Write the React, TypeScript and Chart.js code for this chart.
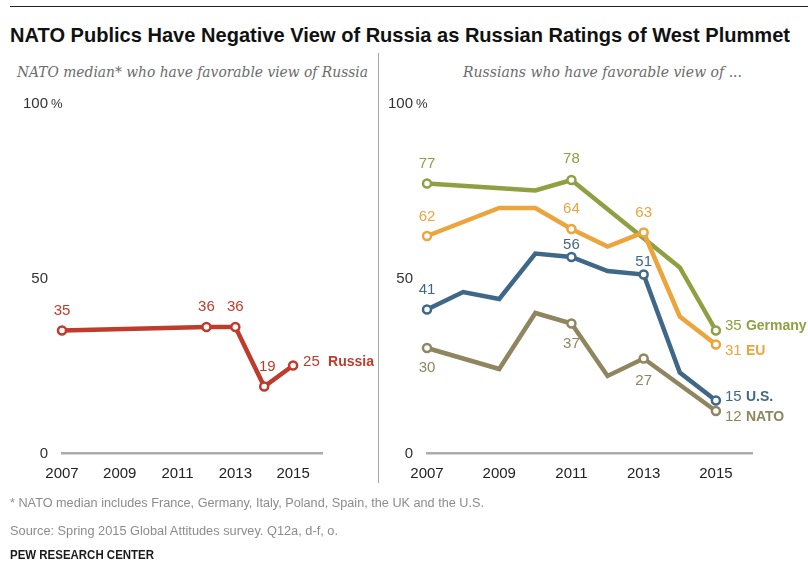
import React, { useEffect, useLayoutEffect, useRef } from "react";
import { Chart, registerables } from "chart.js";

Chart.register(...registerables);

// ---------- DATA ----------
const LEFT_YEARS = [2007, 2012, 2013, 2014, 2015];
const RUSSIA = [35, 36, 36, 19, 25];

const RIGHT_YEARS = [2007, 2008, 2009, 2010, 2011, 2012, 2013, 2014, 2015];
const GERMANY = [77, null, null, 75, 78, null, null, 53, 35];
const EU = [62, null, 70, 70, 64, 59, 63, 39, 31];
const US = [41, 46, 44, 57, 56, 52, 51, 23, 15];
const NATO = [30, null, 24, 40, 37, 22, 27, null, 12];

const X_TICKS = [2007, 2009, 2011, 2013, 2015];
const Y_TICKS = [0, 50, 100];

const RUSSIA_LABELED = [2007, 2012, 2013, 2014, 2015];
const GERMANY_LABELED = [2007, 2011, 2015];
const EU_LABELED = [2007, 2011, 2013, 2015];
const US_LABELED = [2007, 2011, 2013, 2015];
const NATO_LABELED = [2007, 2011, 2013, 2015];

// ---------- STYLE ----------
const FONT = "'Liberation Sans', Arial, sans-serif";

type Series = {
  name: string;
  color: string;
  years: number[];
  values: (number | null)[];
  labeled: number[];
  dys: number[]; // offsets of the in-line labels (all but the last)
  dxs: number[];
  endDy: number;
};

const LEFT_SERIES: Series[] = [
  {
    name: "Russia",
    color: "#bf3b2c",
    years: LEFT_YEARS,
    values: RUSSIA,
    labeled: RUSSIA_LABELED,
    dys: [-20, -20, -20, -20],
    dxs: [0, 0, 0, 3],
    endDy: -4,
  },
];

const RIGHT_SERIES: Series[] = [
  {
    name: "EU",
    color: "#eca43c",
    years: RIGHT_YEARS,
    values: EU,
    labeled: EU_LABELED,
    dys: [-19, -20, -20],
    dxs: [0, 0, 0],
    endDy: 6,
  },
  {
    name: "U.S.",
    color: "#3f6888",
    years: RIGHT_YEARS,
    values: US,
    labeled: US_LABELED,
    dys: [-20, -12, -13],
    dxs: [0, 0, 0],
    endDy: -4,
  },
  {
    name: "NATO",
    color: "#8f8660",
    years: RIGHT_YEARS,
    values: NATO,
    labeled: NATO_LABELED,
    dys: [20, 20, 22],
    dxs: [0, 0, 0],
    endDy: 6,
  },
  {
    name: "Germany",
    color: "#8fa043",
    years: RIGHT_YEARS,
    values: GERMANY,
    labeled: GERMANY_LABELED,
    dys: [-20, -21],
    dxs: [0, 0],
    endDy: -5,
  },
];

function LineChart({
  series,
  width,
  height,
  padLeft,
  padRight,
  numDx,
  nameDx,
}: {
  series: Series[];
  width: number;
  height: number;
  padLeft: number;
  padRight: number;
  numDx: number;
  nameDx: number;
}) {
  const ref = useRef<HTMLCanvasElement>(null);
  useEffect(() => {
    const canvas = ref.current;
    if (!canvas) return;

    const labelsPlugin = {
      id: "valueLabels",
      afterDatasetsDraw(chart: any) {
        const ctx = chart.ctx;
        ctx.save();
        series.forEach((s, di) => {
          const meta = chart.getDatasetMeta(di);
          s.labeled.forEach((yr, li) => {
            const idx = s.years.indexOf(yr);
            const pt = meta.data[idx];
            if (!pt) return;
            const v = s.values[idx];
            ctx.fillStyle = s.color;
            ctx.textBaseline = "middle";
            if (li === s.labeled.length - 1) {
              ctx.font = `15px ${FONT}`;
              ctx.textAlign = "left";
              ctx.fillText(String(v), pt.x + numDx, pt.y + s.endDy);
              ctx.font = `bold 14px ${FONT}`;
              ctx.fillText(s.name, pt.x + nameDx, pt.y + s.endDy + 0.5);
            } else {
              ctx.font = `15px ${FONT}`;
              ctx.textAlign = "center";
              ctx.fillText(String(v), pt.x + s.dxs[li], pt.y + s.dys[li]);
            }
          });
        });
        ctx.restore();
      },
      afterDraw(chart: any) {
        const ctx = chart.ctx;
        const ys = chart.scales.y;
        const left = chart.chartArea.left;
        ctx.save();
        ctx.fillStyle = "#333";
        ctx.font = `15px ${FONT}`;
        ctx.textBaseline = "middle";
        Y_TICKS.forEach((t) => {
          const py = ys.getPixelForValue(t) + 1;
          if (t === 100) {
            ctx.textAlign = "left";
            ctx.fillText("100", left - 39, py);
            const w = ctx.measureText("100").width;
            ctx.font = `13px ${FONT}`;
            ctx.fillText("%", left - 39 + w + 3, py);
            ctx.font = `15px ${FONT}`;
          } else {
            ctx.textAlign = "right";
            ctx.fillText(String(t), left - 14, py);
          }
        });
        ctx.restore();
      },
    };

    const chart = new Chart(canvas, {
      type: "line",
      data: {
        datasets: series.map((s) => ({
          label: s.name,
          data: s.years.map((yr, i) => ({ x: yr, y: s.values[i] })) as any,
          borderColor: s.color,
          backgroundColor: s.color,
          borderWidth: 4.5,
          tension: 0,
          spanGaps: true,
          clip: false as any,
          pointRadius: s.years.map((yr) => (s.labeled.includes(yr) ? 4 : 0)),
          pointHoverRadius: 0,
          pointBackgroundColor: "#ffffff",
          pointBorderColor: s.color,
          pointBorderWidth: 2.5,
        })),
      },
      options: {
        responsive: false,
        animation: false,
        devicePixelRatio: 1,
        events: [],
        layout: { padding: { left: padLeft, right: padRight, top: 103, bottom: 0 } },
        plugins: { legend: { display: false }, tooltip: { enabled: false } },
        scales: {
          x: {
            type: "linear",
            min: 2007,
            max: 2016,
            grid: { display: false, drawTicks: false },
            border: { display: true, color: "#ababab", width: 2.5 },
            afterBuildTicks: (s: any) => {
              s.ticks = X_TICKS.map((v) => ({ value: v }));
            },
            afterFit: (s: any) => {
              s.height = height - 453;
            },
            ticks: {
              autoSkip: false,
              maxRotation: 0,
              padding: 12,
              color: "#222",
              font: { family: FONT, size: 15 },
              callback: (v: any) => String(v),
            },
          },
          y: {
            type: "linear",
            min: 0,
            max: 100,
            display: false,
          },
        },
      },
      plugins: [labelsPlugin],
    });
    return () => chart.destroy();
  }, []);
  return <canvas ref={ref} width={width} height={height} style={{ display: "block", width, height }} />;
}

function FitText({
  text,
  left,
  top,
  width,
  style,
}: {
  text: string;
  left: number;
  top: number;
  width: number;
  style: React.CSSProperties;
}) {
  const ref = useRef<HTMLSpanElement>(null);
  useLayoutEffect(() => {
    const el = ref.current;
    if (!el) return;
    el.style.transform = "none";
    const w = el.getBoundingClientRect().width;
    if (w > 0) el.style.transform = `scaleX(${width / w})`;
  }, [text, width]);
  return (
    <span
      ref={ref}
      style={{
        position: "absolute",
        left,
        top,
        whiteSpace: "nowrap",
        display: "inline-block",
        transformOrigin: "0 0",
        ...style,
      }}
    >
      {text}
    </span>
  );
}

export default function App() {
  return (
    <div
      style={{
        position: "absolute",
        left: 0,
        top: 0,
        width: 808,
        height: 575,
        background: "#fff",
        overflow: "hidden",
      }}
    >
      <div style={{ position: "absolute", left: 10, top: 6, width: 798, height: 1, background: "#222" }} />
      <FitText
        text="NATO Publics Have Negative View of Russia as Russian Ratings of West Plummet"
        left={10}
        top={24}
        width={780}
        style={{
          fontFamily: "'Liberation Sans Narrow', 'Liberation Sans', Arial, sans-serif",
          fontWeight: "bold",
          fontSize: 21,
          lineHeight: "21px",
          color: "#111",
        }}
      />
      <FitText
        text="NATO median* who have favorable view of Russia"
        left={17}
        top={65}
        width={351}
        style={{
          fontFamily: "'DejaVu Serif', Georgia, serif",
          fontStyle: "italic",
          fontSize: 14,
          lineHeight: "14px",
          color: "#6b6b6b",
        }}
      />
      <FitText
        text="Russians who have favorable view of ..."
        left={463}
        top={65}
        width={279}
        style={{
          fontFamily: "'DejaVu Serif', Georgia, serif",
          fontStyle: "italic",
          fontSize: 14,
          lineHeight: "14px",
          color: "#6b6b6b",
        }}
      />
      <div style={{ position: "absolute", left: 0, top: 0 }}>
        <LineChart series={LEFT_SERIES} width={378} height={500} padLeft={62} padRight={56} numDx={10} nameDx={35} />
      </div>
      <div style={{ position: "absolute", left: 378, top: 0 }}>
        <LineChart series={RIGHT_SERIES} width={430} height={500} padLeft={49} padRight={56} numDx={9} nameDx={30} />
      </div>
      <div style={{ position: "absolute", left: 378, top: 53, width: 1, height: 430, background: "#a8a8a8" }} />
      <FitText
        text="* NATO median includes France, Germany, Italy, Poland, Spain, the UK and the U.S."
        left={10}
        top={497}
        width={474}
        style={{ fontFamily: FONT, fontSize: 12, lineHeight: "12px", color: "#8c8c8c" }}
      />
      <FitText
        text="Source: Spring 2015 Global Attitudes survey. Q12a, d-f, o."
        left={10}
        top={525}
        width={328}
        style={{ fontFamily: FONT, fontSize: 12, lineHeight: "12px", color: "#8c8c8c" }}
      />
      <FitText
        text="PEW RESEARCH CENTER"
        left={10}
        top={549}
        width={144}
        style={{ fontFamily: FONT, fontSize: 12, lineHeight: "12px", fontWeight: "bold", color: "#1a1a1a" }}
      />
    </div>
  );
}
